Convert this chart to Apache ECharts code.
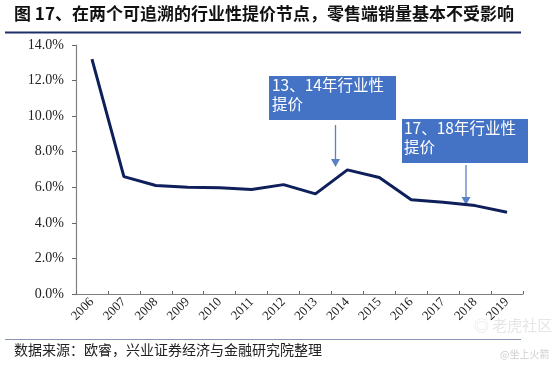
<!DOCTYPE html>
<html><head><meta charset="utf-8">
<script src="https://cdn.jsdelivr.net/npm/echarts@6/dist/echarts.min.js"></script>
<style>html,body{margin:0;padding:0;background:#fff}#c{width:554px;height:367px}</style>
</head><body><div id="c"></div>
<script>
const years = ['2006','2007','2008','2009','2010','2011','2012','2013','2014','2015','2016','2017','2018','2019'];
const share = [13.2, 6.6, 6.1, 6.0, 5.98, 5.87, 6.15, 5.63, 6.98, 6.55, 5.3, 5.16, 4.97, 4.6];
const titleText = '图 17、在两个可追溯的行业性提价节点，零售端销量基本不受影响';
const sourceText = '数据来源：欧睿，兴业证券经济与金融研究院整理';
const note1 = '13、14年行业性\n提价';
const note2 = '17、18年行业性\n提价';

const chart = echarts.init(document.getElementById('c'), null, {renderer:'canvas'});
const boxColor = '#4472C4';
const arrowColor = '#5B80C8';
function arrow(x, y1, y2){
  return [
    {type:'line', shape:{x1:x,y1:y1,x2:x,y2:y2-6}, style:{stroke:arrowColor, lineWidth:1.3}},
    {type:'polygon', shape:{points:[[x-4.5,y2-8],[x+4.5,y2-8],[x,y2]]}, style:{fill:arrowColor}}
  ];
}
chart.setOption({
  animation:false,
  grid:{left:76, right:31, top:45, bottom:73},
  xAxis:{type:'category', data:years, boundaryGap:true,
    axisLine:{lineStyle:{color:'#808080', width:1.2}},
    axisTick:{show:true, inside:true, length:3, alignWithLabel:false, lineStyle:{color:'#666'}},
    axisLabel:{rotate:45, fontFamily:'Liberation Serif', fontSize:13, color:'#222', margin:6, interval:0}
  },
  yAxis:{type:'value', min:0, max:14, interval:2,
    splitLine:{show:false},
    axisLine:{show:true, lineStyle:{color:'#808080', width:1.2}},
    axisTick:{show:true, length:4, lineStyle:{color:'#666'}},
    axisLabel:{formatter:v=>v.toFixed(1)+'%', fontFamily:'Liberation Serif', fontSize:14, color:'#222', margin:12}
  },
  series:[{type:'line', data:share, symbol:'none', lineStyle:{color:'#0E1F5B', width:3}}],
  graphic:[
    {type:'text', left:14, top:5, style:{text:titleText, font:'bold 17px "Noto Sans CJK SC"', fill:'#111'}},
    {type:'line', shape:{x1:5,y1:32.5,x2:521,y2:32.5}, style:{stroke:'#1F2F6B', lineWidth:2}},
    {type:'line', shape:{x1:5,y1:339.5,x2:521,y2:339.5}, style:{stroke:'#8B93B5', lineWidth:1}},
    {type:'text', left:14, top:343, style:{text:sourceText, font:'14px "Noto Sans CJK SC"', fill:'#222'}},
    {type:'text', left:474, top:318, style:{text:'◎ 老虎社区', font:'15px "Noto Sans CJK SC"', fill:'#e6e6e6'}},
    {type:'text', left:500, top:349, style:{text:'@坐上火箭', font:'10px "Noto Sans CJK SC"', fill:'#cfcfcf'}},
    {type:'rect', shape:{x:269,y:76,width:127,height:44}, style:{fill:boxColor}},
    {type:'text', left:272, top:76, style:{text:note1, font:'15.5px "Noto Sans CJK SC"', fill:'#fff', lineHeight:19}},
    {type:'rect', shape:{x:402,y:119,width:126,height:44}, style:{fill:boxColor}},
    {type:'text', left:404, top:119, style:{text:note2, font:'15.5px "Noto Sans CJK SC"', fill:'#fff', lineHeight:19}},
    ...arrow(335.5, 125, 167),
    ...arrow(466, 165, 205)
  ]
});
</script></body></html>
